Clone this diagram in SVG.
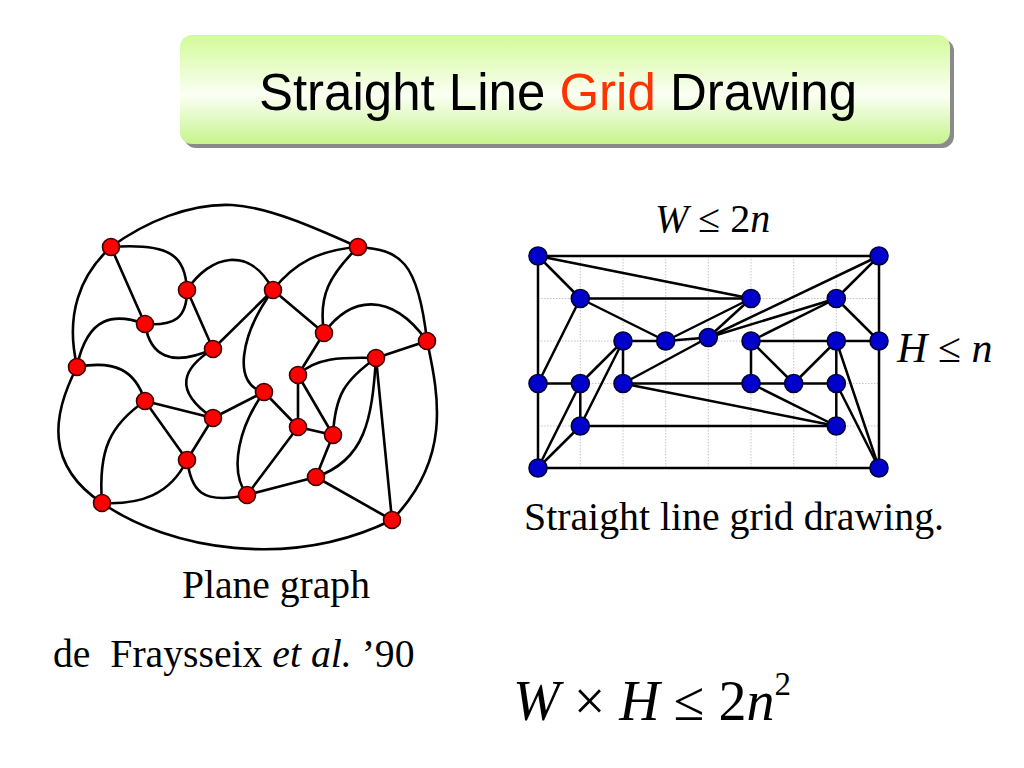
<svg xmlns="http://www.w3.org/2000/svg" width="1024" height="768" viewBox="0 0 1024 768">
<defs>
<linearGradient id="titleGrad" x1="0" y1="0" x2="0" y2="1">
<stop offset="0" stop-color="#d2fb98"/>
<stop offset="0.55" stop-color="#fbfff4"/>
<stop offset="1" stop-color="#c6f48c"/>
</linearGradient>
</defs>
<style>
.e{fill:none;stroke:#000;stroke-width:2.6;stroke-linecap:round}
.g{fill:none;stroke:#000;stroke-width:2.5;stroke-linecap:round}
.grid{stroke:#c4c4c4;stroke-width:1;stroke-dasharray:1.5 1.5}
.rn{fill:#ff0000;stroke:#3a0000;stroke-width:1.6}
.bn{fill:#0000cc;stroke:#000033;stroke-width:1.6}
.t{font-family:"Liberation Serif","Times New Roman",serif;fill:#000}
.title{font-family:"Liberation Sans",Arial,sans-serif;font-size:51px;fill:#000}
</style>
<rect width="1024" height="768" fill="#ffffff"/>
<g id="title">
<rect x="184" y="39" width="770" height="109" rx="12" fill="#8a8a8a"/>
<rect x="180" y="35" width="770" height="109" rx="12" fill="url(#titleGrad)"/>
<text class="title" x="558" y="110" text-anchor="middle">Straight Line <tspan fill="#ff3300">Grid</tspan> Drawing</text>
</g>

<g id="connectors-left">
<path class="e" d="M111,247 C145,222 190,203 232,205 C270,207 320,230 358,247"/>
<path class="e" d="M111,247 C80,275 65,315 77,366"/>
<path class="e" d="M111,247 L145,324"/>
<path class="e" d="M111,247 C170,243 185,255 187,290"/>
<path class="e" d="M187,290 C210,255 250,245 273,290"/>
<path class="e" d="M187,290 C187,318 175,326 145,324"/>
<path class="e" d="M187,290 L213,349"/>
<path class="e" d="M145,324 C115,313 88,315 77,366"/>
<path class="e" d="M145,324 C150,355 170,368 213,349"/>
<path class="e" d="M213,349 L273,290"/>
<path class="e" d="M213,349 C183,368 172,390 213,418"/>
<path class="e" d="M273,290 C240,335 232,385 264,392"/>
<path class="e" d="M273,290 C295,262 320,250 358,247"/>
<path class="e" d="M273,290 L324,333"/>
<path class="e" d="M358,247 C330,275 318,295 324,333"/>
<path class="e" d="M358,247 C400,250 418,260 427,341"/>
<path class="e" d="M324,333 C350,297 390,290 427,341"/>
<path class="e" d="M324,333 L298,375"/>
<path class="e" d="M427,341 L376,358"/>
<path class="e" d="M298,375 C315,358 340,357 376,358"/>
<path class="e" d="M298,375 L298,427"/>
<path class="e" d="M298,375 L333,435"/>
<path class="e" d="M264,392 L213,418"/>
<path class="e" d="M264,392 L298,427"/>
<path class="e" d="M264,392 C240,425 228,470 247,495"/>
<path class="e" d="M298,427 L247,495"/>
<path class="e" d="M298,427 L333,435"/>
<path class="e" d="M333,435 L316,477"/>
<path class="e" d="M333,435 C335,395 345,380 376,358"/>
<path class="e" d="M376,358 C372,420 365,460 316,477"/>
<path class="e" d="M376,358 L392,520"/>
<path class="e" d="M427,341 C440,400 450,460 392,520"/>
<path class="e" d="M316,477 L392,520"/>
<path class="e" d="M316,477 L247,495"/>
<path class="e" d="M247,495 C200,505 192,490 187,460"/>
<path class="e" d="M187,460 C170,495 140,505 102,503"/>
<path class="e" d="M145,401 C110,425 98,450 102,503"/>
<path class="e" d="M77,367 C52,415 45,465 102,503"/>
<path class="e" d="M77,367 C115,360 135,370 145,401"/>
<path class="e" d="M145,401 L213,418"/>
<path class="e" d="M145,401 L187,460"/>
<path class="e" d="M213,418 L187,460"/>
<path class="e" d="M102,503 C170,550 290,570 392,520"/>
</g>

<g id="nodes-left">
<circle id="a" class="rn" cx="111" cy="247" r="8.5"/>
<circle id="b" class="rn" cx="358" cy="247" r="8.5"/>
<circle id="c" class="rn" cx="187" cy="290" r="8.5"/>
<circle id="d" class="rn" cx="273" cy="290" r="8.5"/>
<circle id="e" class="rn" cx="145" cy="324" r="8.5"/>
<circle id="f" class="rn" cx="324" cy="333" r="8.5"/>
<circle id="g" class="rn" cx="213" cy="349" r="8.5"/>
<circle id="h" class="rn" cx="427" cy="341" r="8.5"/>
<circle id="i" class="rn" cx="77" cy="367" r="8.5"/>
<circle id="j" class="rn" cx="376" cy="358" r="8.5"/>
<circle id="k" class="rn" cx="298" cy="375" r="8.5"/>
<circle id="l" class="rn" cx="145" cy="401" r="8.5"/>
<circle id="m" class="rn" cx="264" cy="392" r="8.5"/>
<circle id="n" class="rn" cx="213" cy="418" r="8.5"/>
<circle id="o" class="rn" cx="298" cy="427" r="8.5"/>
<circle id="p" class="rn" cx="333" cy="435" r="8.5"/>
<circle id="q" class="rn" cx="187" cy="460" r="8.5"/>
<circle id="r" class="rn" cx="316" cy="477" r="8.5"/>
<circle id="s" class="rn" cx="247" cy="495" r="8.5"/>
<circle id="t" class="rn" cx="102" cy="503" r="8.5"/>
<circle id="u" class="rn" cx="392" cy="520" r="8.5"/>
</g>

<g id="grid">
<path class="grid" d="M580.3,256V468 M623,256V468 M665.7,256V468 M708.3,256V468 M751,256V468 M793.7,256V468 M836.3,256V468 M538,298.5H879 M538,341H879 M538,383.5H879 M538,426H879"/>
</g>

<g id="connectors-right">
<path class="g" d="M538,256 L879,256"/>
<path class="g" d="M538,256 L751,298.5"/>
<path class="g" d="M538,256 L580.3,298.5"/>
<path class="g" d="M538,256 L538,383.5"/>
<path class="g" d="M538,383.5 L538,468"/>
<path class="g" d="M580.3,298.5 L751,298.5"/>
<path class="g" d="M580.3,298.5 L665.7,341"/>
<path class="g" d="M580.3,298.5 L538,383.5"/>
<path class="g" d="M623,341 L665.7,341"/>
<path class="g" d="M665.7,341 L708.3,337.5"/>
<path class="g" d="M665.7,341 L751,298.5"/>
<path class="g" d="M708.3,337.5 L751,298.5"/>
<path class="g" d="M708.3,337.5 L836.3,298.5"/>
<path class="g" d="M708.3,337.5 L879,256"/>
<path class="g" d="M708.3,337.5 L623,383.5"/>
<path class="g" d="M623,341 L623,383.5"/>
<path class="g" d="M623,341 L580.3,383.5"/>
<path class="g" d="M623,341 L580.3,426"/>
<path class="g" d="M538,383.5 L580.3,383.5"/>
<path class="g" d="M580.3,383.5 L580.3,426"/>
<path class="g" d="M580.3,383.5 L538,468"/>
<path class="g" d="M580.3,426 L538,468"/>
<path class="g" d="M623,383.5 L751,383.5"/>
<path class="g" d="M623,383.5 L836.3,426"/>
<path class="g" d="M580.3,426 L836.3,426"/>
<path class="g" d="M538,468 L879,468"/>
<path class="g" d="M879,256 L879,341"/>
<path class="g" d="M879,341 L879,468"/>
<path class="g" d="M879,256 L836.3,298.5"/>
<path class="g" d="M836.3,298.5 L879,341"/>
<path class="g" d="M751,341 L836.3,341"/>
<path class="g" d="M836.3,341 L879,341"/>
<path class="g" d="M751,341 L751,383.5"/>
<path class="g" d="M751,341 L793.7,383.5"/>
<path class="g" d="M836.3,341 L793.7,383.5"/>
<path class="g" d="M751,341 L836.3,298.5"/>
<path class="g" d="M751,383.5 L793.7,383.5"/>
<path class="g" d="M793.7,383.5 L836.3,383.5"/>
<path class="g" d="M836.3,341 L836.3,383.5"/>
<path class="g" d="M836.3,383.5 L836.3,426"/>
<path class="g" d="M751,383.5 L836.3,426"/>
<path class="g" d="M836.3,341 L879,468"/>
<path class="g" d="M836.3,383.5 L879,468"/>
</g>

<g id="nodes-right">
<circle id="v1" class="bn" cx="538" cy="256" r="9"/>
<circle id="v2" class="bn" cx="879" cy="256" r="9"/>
<circle id="v3" class="bn" cx="580.3" cy="298.5" r="9"/>
<circle id="v4" class="bn" cx="751" cy="298.5" r="9"/>
<circle id="v5" class="bn" cx="836.3" cy="298.5" r="9"/>
<circle id="v6" class="bn" cx="623" cy="341" r="9"/>
<circle id="v7" class="bn" cx="665.7" cy="341" r="9"/>
<circle id="v8" class="bn" cx="708.3" cy="337.5" r="9"/>
<circle id="v9" class="bn" cx="751" cy="341" r="9"/>
<circle id="v10" class="bn" cx="836.3" cy="341" r="9"/>
<circle id="v11" class="bn" cx="879" cy="341" r="9"/>
<circle id="v12" class="bn" cx="538" cy="383.5" r="9"/>
<circle id="v13" class="bn" cx="580.3" cy="383.5" r="9"/>
<circle id="v14" class="bn" cx="623" cy="383.5" r="9"/>
<circle id="v15" class="bn" cx="751" cy="383.5" r="9"/>
<circle id="v16" class="bn" cx="793.7" cy="383.5" r="9"/>
<circle id="v17" class="bn" cx="836.3" cy="383.5" r="9"/>
<circle id="v18" class="bn" cx="580.3" cy="426" r="9"/>
<circle id="v19" class="bn" cx="836.3" cy="426" r="9"/>
<circle id="v20" class="bn" cx="538" cy="468" r="9"/>
<circle id="v21" class="bn" cx="879" cy="468" r="9"/>
</g>

<g id="labels">
<text class="t" x="655" y="232" font-size="40"><tspan font-style="italic">W</tspan> ≤ 2<tspan font-style="italic">n</tspan></text>
<text class="t" x="897" y="362" font-size="42"><tspan font-style="italic">H</tspan> ≤ <tspan font-style="italic">n</tspan></text>
<text class="t" x="524" y="530" font-size="39.8">Straight line grid drawing.</text>
<text class="t" x="182" y="598" font-size="39.6">Plane graph</text>
<text class="t" x="53" y="667" font-size="39.7" xml:space="preserve">de  Fraysseix <tspan font-style="italic">et al.</tspan> ’90</text>
<text class="t" x="513" y="720" font-size="56"><tspan font-style="italic">W</tspan> × <tspan font-style="italic">H</tspan> ≤ 2<tspan font-style="italic">n</tspan><tspan font-size="33" dy="-25">2</tspan></text>
</g>
</svg>
